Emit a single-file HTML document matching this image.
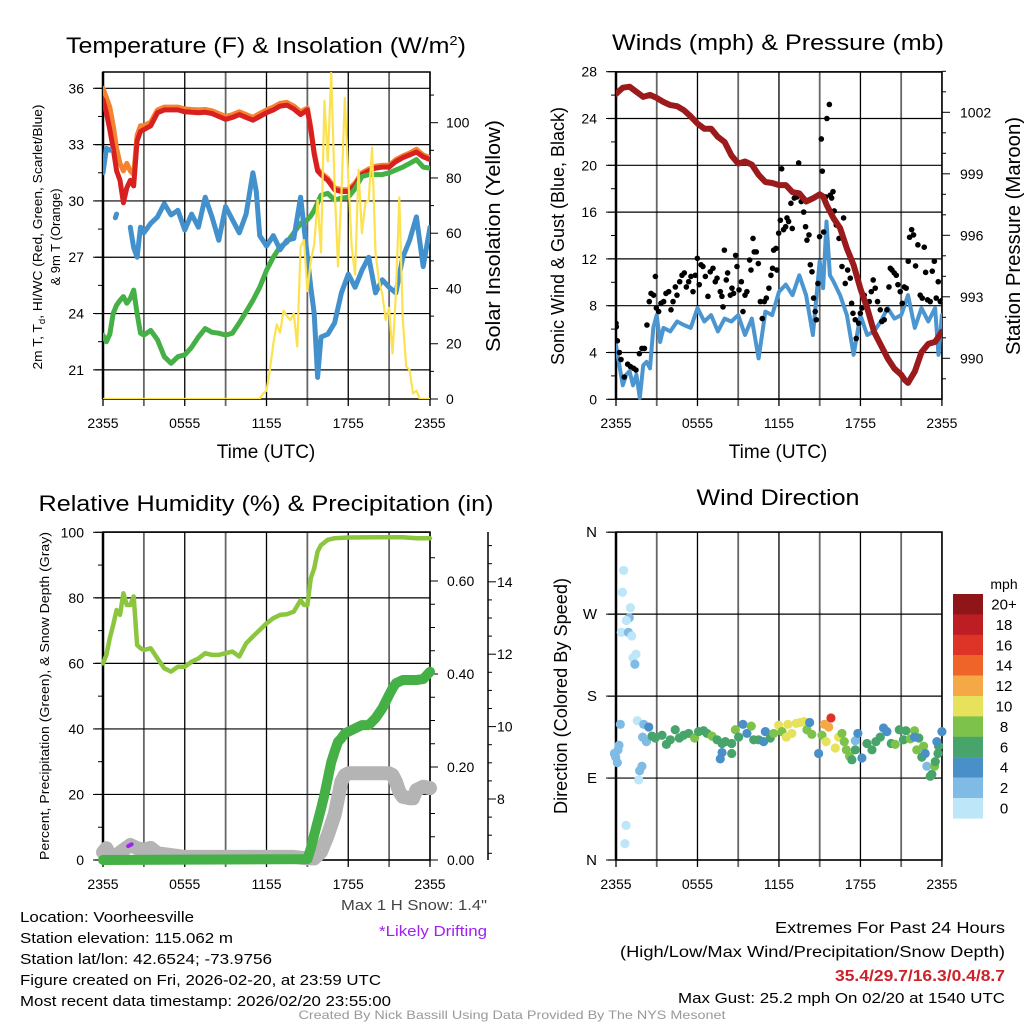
<!DOCTYPE html>
<html><head><meta charset="utf-8"><style>
html,body{margin:0;padding:0;background:#fff;}
svg{display:block;font-family:"Liberation Sans",Arial,sans-serif;}
</style></head><body>
<svg id="fig" width="1024" height="1024" viewBox="0 0 1024 1024" xmlns="http://www.w3.org/2000/svg">
<defs>
<clipPath id="c1"><rect x="103" y="72" width="327" height="327"/></clipPath>
<clipPath id="c2"><rect x="616" y="72" width="326" height="328"/></clipPath>
<clipPath id="c3"><rect x="96" y="525" width="341" height="345"/></clipPath>
<clipPath id="c4"><rect x="610" y="525" width="338" height="342"/></clipPath>
</defs>
<g id="layer"></g>
<text x="266" y="53" font-size="22" text-anchor="middle" textLength="400" lengthAdjust="spacingAndGlyphs">Temperature (F) &amp; Insolation (W/m<tspan dy="-8" font-size="13">2</tspan><tspan dy="8">)</tspan></text>
<text x="778" y="50" font-size="22" text-anchor="middle" textLength="332" lengthAdjust="spacingAndGlyphs">Winds (mph) &amp; Pressure (mb)</text>
<text x="266" y="511" font-size="22" text-anchor="middle" textLength="455" lengthAdjust="spacingAndGlyphs">Relative Humidity (%) &amp; Precipitation (in)</text>
<text x="778" y="505" font-size="22" text-anchor="middle" textLength="163" lengthAdjust="spacingAndGlyphs">Wind Direction</text>

<text transform="translate(42,237) rotate(-90)" font-size="13" text-anchor="middle" textLength="265" lengthAdjust="spacingAndGlyphs">2m T, T<tspan font-size="9" dy="3">d</tspan><tspan dy="-3">, HI/WC (Red, Green, Scarlet/Blue)</tspan></text>
<text transform="translate(60,237) rotate(-90)" font-size="13" text-anchor="middle">&amp; 9m T (Orange)</text>
<text transform="translate(500,236) rotate(-90)" font-size="20" text-anchor="middle" textLength="232" lengthAdjust="spacingAndGlyphs">Solar Insolation (Yellow)</text>
<text transform="translate(564,236) rotate(-90)" font-size="18" text-anchor="middle" textLength="258" lengthAdjust="spacingAndGlyphs">Sonic Wind &amp; Gust (Blue, Black)</text>
<text transform="translate(1020,236) rotate(-90)" font-size="20" text-anchor="middle" textLength="238" lengthAdjust="spacingAndGlyphs">Station Pressure (Maroon)</text>
<text transform="translate(49,696) rotate(-90)" font-size="13" text-anchor="middle" textLength="328" lengthAdjust="spacingAndGlyphs">Percent, Precipitation (Green), &amp; Snow Depth (Gray)</text>
<text transform="translate(567,696) rotate(-90)" font-size="18" text-anchor="middle" textLength="236" lengthAdjust="spacingAndGlyphs">Direction (Colored By Speed)</text>
<text x="266" y="458" font-size="19" text-anchor="middle">Time (UTC)</text>
<text x="778" y="458" font-size="19" text-anchor="middle">Time (UTC)</text>

<text x="487" y="910" font-size="15" text-anchor="end" fill="#444" textLength="146" lengthAdjust="spacingAndGlyphs">Max 1 H Snow: 1.4"</text>
<text x="487" y="936" font-size="15" text-anchor="end" fill="#a020f0" textLength="108" lengthAdjust="spacingAndGlyphs">*Likely Drifting</text>
<g font-size="15">
<text x="20" y="922" textLength="174" lengthAdjust="spacingAndGlyphs">Location: Voorheesville</text>
<text x="20" y="943" textLength="213" lengthAdjust="spacingAndGlyphs">Station elevation: 115.062 m</text>
<text x="20" y="964" textLength="252" lengthAdjust="spacingAndGlyphs">Station lat/lon: 42.6524; -73.9756</text>
<text x="20" y="985" textLength="361" lengthAdjust="spacingAndGlyphs">Figure created on Fri, 2026-02-20, at 23:59 UTC</text>
<text x="20" y="1006" textLength="371" lengthAdjust="spacingAndGlyphs">Most recent data timestamp: 2026/02/20 23:55:00</text>
</g>
<g font-size="16" text-anchor="end">
<text x="1005" y="933" textLength="230" lengthAdjust="spacingAndGlyphs">Extremes For Past 24 Hours</text>
<text x="1005" y="957" textLength="385" lengthAdjust="spacingAndGlyphs">(High/Low/Max Wind/Precipitation/Snow Depth)</text>
<text x="1005" y="981" fill="#cc2229" font-weight="bold" textLength="170" lengthAdjust="spacingAndGlyphs">35.4/29.7/16.3/0.4/8.7</text>
<text x="1005" y="1003" font-size="15" textLength="327" lengthAdjust="spacingAndGlyphs">Max Gust: 25.2 mph On 02/20 at 1540 UTC</text>
</g>
<text x="512" y="1019" font-size="12" fill="#999" text-anchor="middle" textLength="427" lengthAdjust="spacingAndGlyphs">Created By Nick Bassill Using Data Provided By The NYS Mesonet</text>
</svg>
<script>
// ---------- Panel 1 data ----------
const tT = [0,0.25,0.5,0.75,1,1.25,1.5,1.75,2,2.25,2.5,2.75,3,3.5,4,4.5,5,5.5,6,6.5,7,7.5,8,8.5,9,9.5,10,10.5,11,11.5,12,12.5,13,13.5,14,14.5,15,15.25,15.5,15.75,16,16.5,17,17.5,18,18.5,19,19.5,20,20.5,21,21.5,22,22.5,23,23.5,24];
const temp2m = [35.4,34.7,33.8,32.8,31.6,31.1,29.9,30.7,31.1,30.8,33.2,33.7,33.8,34.0,34.7,34.85,34.85,34.85,34.75,34.72,34.7,34.72,34.66,34.5,34.35,34.45,34.6,34.45,34.3,34.5,34.7,34.85,35.05,35.1,34.9,34.6,34.85,33.8,32.5,31.6,31.4,31.1,30.6,30.5,30.5,30.85,31.4,31.6,31.75,31.8,31.8,32.1,32.3,32.45,32.6,32.35,32.2];
const temp9m = [36.0,35.5,35.0,34.0,32.8,32.0,31.6,32.0,31.6,31.4,33.5,34.0,34.0,34.2,34.85,35.0,35.0,35.0,34.9,34.87,34.85,34.87,34.8,34.65,34.5,34.6,34.75,34.6,34.45,34.65,34.85,35.0,35.2,35.25,35.05,34.75,34.95,33.9,32.6,31.7,31.5,31.2,30.7,30.6,30.6,30.95,31.5,31.7,31.85,31.9,31.9,32.2,32.4,32.55,32.75,32.45,32.3];
const dewpt = [22.85,22.5,22.9,24.0,24.45,24.7,24.9,24.55,24.8,25.25,24.0,22.95,22.85,23.1,22.6,21.7,21.35,21.7,21.8,22.2,22.75,23.2,23.0,22.95,22.85,22.95,23.5,24.1,24.7,25.4,26.3,27.0,27.55,27.8,28.3,28.8,29.0,29.2,29.5,29.9,30.3,30.4,30.05,30.15,30.2,30.65,31.3,31.4,31.4,31.4,31.5,31.65,31.8,32.0,32.2,31.8,31.75];
const tWC = [0,0.25,0.5,0.75,0.9,1.0,1.75,2,2.25,2.5,2.75,3,3.5,4,4.5,5,5.5,6,6.5,7,7.5,8,8.5,9,9.5,10,10.5,11,11.25,11.5,12,12.5,13,13.5,14,14.5,15,15.25,15.5,15.75,16,16.5,17,17.5,18,18.5,19,19.5,20,20.5,21,21.5,22,22.5,23,23.5,24];
const windChill = [31.5,32.8,32.7,null,29.1,29.3,null,28.6,27.5,27.0,28.6,28.3,28.8,29.15,29.85,29.25,29.5,28.45,29.3,28.6,30.2,29.15,27.9,29.7,29.0,28.3,29.3,31.5,30.5,28.15,27.6,28.15,27.4,27.9,28.0,30.2,27.0,25.4,24.0,20.6,22.75,22.9,23.5,25.1,26.1,25.4,26.3,27.0,25.1,25.8,25.4,25.1,27.0,27.9,29.15,26.5,28.6];
const tSol = [0,11.5,11.75,12,12.25,12.5,12.75,13,13.25,13.5,13.75,14,14.25,14.5,14.75,15,15.25,15.5,15.75,16,16.25,16.5,16.75,17,17.25,17.5,17.75,18,18.25,18.5,18.75,19,19.25,19.5,19.75,20,20.25,20.5,20.75,21,21.25,21.5,21.75,22,22.25,22.5,22.75,23,23.25,24];
const solar = [0,0,2,3,10.5,20,27,24,32,30,28.6,31,19,55,57.5,39,50,56,72,53,108,86,118,77,48,74,109,80,55,45,83,60,71,72,91,53,43,38,28.6,33,16.5,38,73,28.6,11.7,10.5,2,3,0,0];
// ---------- Panel 2 data ----------
const tP = [0,0.5,1,1.5,2,2.5,3,3.5,4,4.5,5,5.5,6,6.5,7,7.5,8,8.5,9,9.5,10,10.5,11,11.5,12,12.5,13,13.5,14,14.5,15,15.25,15.5,16,16.5,17,17.5,18,18.5,19,19.5,20,20.5,21,21.25,21.5,22,22.5,23,23.5,24];
const pressure = [1002.9,1003.2,1003.25,1003.0,1002.75,1002.85,1002.7,1002.5,1002.35,1002.3,1002.1,1001.8,1001.45,1001.2,1001.2,1000.8,1000.55,999.9,999.5,999.6,999.45,998.95,998.6,998.55,998.45,998.45,998.1,998.05,997.65,997.8,998.0,997.9,997.5,996.85,996.35,995.35,994.55,993.4,992.45,991.3,990.65,990.0,989.5,989.2,988.95,988.8,989.35,990.3,990.7,990.8,991.3];
const tW = [0,0.25,0.5,0.75,1,1.25,1.5,1.75,2,2.25,2.5,2.75,3,3.25,3.5,4,4.5,5,5.5,6,6.5,7,7.5,8,8.5,9,9.5,10,10.5,11,11.5,12,12.5,13,13.5,14,14.5,15,15.25,15.5,15.75,16,16.5,17,17.5,18,18.5,19,19.5,20,20.5,21,21.5,22,22.5,23,23.5,23.75,24];
const sonicWind = [4.65,2.9,1.2,2.1,2.4,1.2,2.1,0.1,2.9,3.2,2.65,6.1,7.2,4.9,6.1,5.8,6.65,6.35,6.1,7.8,6.65,7.2,5.8,6.9,6.65,7.2,5.5,6.9,3.5,7.5,7.2,9.2,9.8,8.9,10.6,8.9,5.5,11.8,9.5,15.2,10.6,10.1,8.9,7.2,3.8,7.2,5.5,5.8,6.65,7.8,6.9,7.2,8.9,6.1,7.8,6.65,7.8,3.8,7.2];
const gustT = [0,0.02,0.1,0.25,0.37,0.61,0.86,1.06,1.3,1.47,1.72,1.91,2.09,2.28,2.45,2.58,2.77,2.9,2.97,3.14,3.31,3.51,3.68,3.88,4.05,4.2,4.37,4.49,4.69,4.86,5.03,5.18,5.35,5.52,5.67,5.84,5.99,6.13,6.26,6.4,6.58,6.77,6.94,7.14,7.31,7.44,7.68,7.8,7.98,7.88,8.12,8.22,8.42,8.54,8.66,8.81,8.91,9.06,9.23,9.35,9.5,9.64,9.84,9.94,10.09,10.18,10.33,10.48,10.63,10.77,10.92,11.07,11.26,11.41,11.53,11.61,11.78,11.85,11.98,12.1,12.2,12.34,12.49,12.59,12.71,12.88,12.98,13.13,13.33,13.45,13.64,13.82,13.96,14.06,14.21,14.31,14.43,14.55,14.67,14.75,14.87,14.99,15.12,15.19,15.29,15.44,15.53,15.71,15.78,15.88,15.98,16.07,16.22,16.42,16.52,16.64,16.76,16.88,17.06,17.25,17.35,17.45,17.62,17.69,17.87,17.99,18.11,18.28,18.48,18.65,18.8,18.94,19.09,19.26,19.46,19.58,19.75,19.95,20.1,20.2,20.32,20.49,20.64,20.76,20.93,21.08,21.23,21.37,21.52,21.62,21.77,21.91,22.06,22.23,22.4,22.55,22.7,22.8,22.94,23.14,23.29,23.44,23.58,23.73,23.88,24.0];
const gustV = [6.5,6.2,5.0,4.0,3.4,1.9,3.0,2.8,2.65,2.5,3.9,4.35,4.35,6.35,8.35,9.05,8.9,10.5,7.8,7.5,8.2,8.35,9.05,9.2,7.65,8.35,9.6,8.9,10.05,10.6,10.8,9.6,10.05,10.5,9.2,10.6,12.05,9.8,11.5,11.35,10.5,8.8,10.9,11.2,10.05,10.35,9.2,8.8,12.75,7.9,10.2,10.8,8.9,9.5,9.05,12.3,11.35,9.35,10.05,7.5,8.9,9.2,11.9,11.05,13.75,12.6,12.6,11.6,8.35,6.9,8.35,8.65,9.5,10.6,11.2,12.75,12.9,11.05,14.2,15.3,19.7,14.5,14.75,15.5,15.2,16.75,14.6,17.2,17.3,20.2,16.9,16.0,14.75,13.6,14.05,11.5,10.9,8.65,7.5,6.8,9.9,13.9,22.25,19.5,14.3,17.3,24.0,25.2,17.45,17.2,17.75,16.1,14.9,13.75,14.6,11.35,15.5,9.9,11.05,10.35,8.2,7.35,6.8,5.2,6.5,7.35,7.8,8.9,7.8,8.35,9.2,10.2,9.5,8.35,7.65,6.65,6.8,7.65,9.6,11.2,11.05,10.8,10.6,9.8,9.2,8.2,9.6,9.5,11.8,13.85,14.5,14.05,11.4,13.2,8.9,8.65,13.0,10.85,8.5,8.35,10.95,11.8,8.65,10.05,8.35,8.45];
// ---------- Panel 3 data ----------
const tRH = [0,0.25,0.5,0.75,1,1.25,1.5,1.75,2,2.25,2.5,2.75,3,3.5,4,4.5,5,5.5,6,6.5,7,7.5,8,8.5,9,9.5,10,10.5,11,11.5,12,12.5,13,13.5,14,14.5,14.75,15,15.25,15.5,15.75,16,16.5,17,18,20,22,23,24];
const rh = [60,62.6,67.7,71.7,76.3,74.8,81.4,77.8,77.8,80.4,65.6,64.6,64.1,64.6,61.5,58.5,57.5,59.0,59.0,60.5,61.5,63.1,62.6,62.6,63.1,63.6,62.1,66.1,68.2,70.2,72.2,73.8,74.8,75.0,75.8,79.3,77.8,77.8,86.0,89.0,94.1,96.1,97.7,98.2,98.4,98.5,98.5,98.2,98.2];
const tPr = [0,15,15.25,15.5,15.75,16,16.25,16.5,16.75,17,17.25,17.5,17.75,18,18.5,19,19.5,20,20.5,21,21.25,21.5,22,22.5,23,23.5,24];
const precip = [0,0.002,0.025,0.054,0.082,0.11,0.14,0.175,0.21,0.233,0.254,0.262,0.272,0.276,0.283,0.29,0.29,0.305,0.326,0.355,0.369,0.38,0.387,0.387,0.387,0.389,0.405];
const tSn = [0,0.25,0.5,1,1.5,2,2.5,3,3.5,4,5,6,10,14,15,15.5,16,16.5,17,17.25,17.5,17.75,18,19,20,21,21.25,21.5,21.75,22,22.5,22.75,23,23.5,24];
const snowDepth = [6.53,6.64,6.45,6.45,6.59,6.73,6.64,6.6,6.65,6.5,6.45,6.4,6.4,6.4,6.36,6.36,6.54,7.0,7.56,8.02,8.48,8.66,8.71,8.71,8.71,8.71,8.66,8.48,8.2,8.06,8.02,8.02,8.25,8.34,8.3];
const tDrift = [1.85,2.1];
const drift = [6.7,6.75];
// ---------- Panel 4 data ----------
const dirT = [0.56,0.47,1.06,0.98,0.76,0.39,0.91,1.16,1.47,1.25,1.39,1.57,0.32,0.22,0.15,-0.12,-0.02,0.1,1.74,1.91,1.67,0.74,0.66,1.96,2.04,2.41,2.24,2.65,2.89,3.39,3.71,4.0,4.36,4.66,4.98,5.35,5.79,6.08,6.45,6.7,7.07,7.44,7.81,8.05,7.68,7.81,8.52,8.52,8.79,9.03,9.35,9.64,9.96,10.14,10.5,10.87,11.0,11.36,11.61,11.98,12.22,12.54,12.66,12.95,13.27,13.57,13.86,14.06,14.42,14.26,14.92,15.17,15.66,15.83,15.35,15.47,16.15,16.39,16.64,16.81,16.96,17.2,17.37,17.62,17.62,17.81,18.11,18.48,18.85,19.14,19.46,19.7,19.95,20.27,20.56,20.86,21.17,21.35,21.67,21.98,22.3,21.98,22.15,22.52,22.65,22.77,22.89,23.14,23.26,23.46,23.51,23.71,23.75,24.0,23.63];
const dirDeg = [318,294,277,266,263,250,250,246,226,222,215,153,149,126,121,117,113,107,98,103,88,38,18,135,149,146,130,136,134,137,127,132,143,134,137,139,134,141,142,139,136,132,128,130,111,118,117,128,143,135,149,139,147,132,132,130,141,134,139,148,141,135,149,139,150,151,152,143,138,151,117,137,146,156,149,130,123,135,139,130,121,114,110,121,131,139,112,128,121,130,135,145,141,128,127,143,132,142,133,142,134,135,121,113,125,117,103,92,94,103,108,117,125,141,130,134];
const dirSpd = [0.5,1,1,3,1,1,3,1,1,1,3,1,3,2,2,3,3,3,2,2,1,0.5,0.5,2,3,4.5,2,6,6,7,6,6,7,6,6,7,8,7,7,6,8,6,6,6,4,4,6,6,8,6,4,4,8,6,6,4,4,6,8,10,8,10,10,10,10,10,10,8,8,4,4,8,12,16,12,10,10,10,8,8,8,8,6,6,2,4,4,6,6,6,6,4,4,6,8,6,6,6,8,8,6,4,8,6,8,4,2,6,6,8,6,6,6,4,4,2];
const cbLabels = ["20+","18","16","14","12","10","8","6","4","2","0"];
const cbColors = ["#8f1519","#bd1e24","#dd3427","#ee6429","#f5a946","#e6e25b","#7dc24b","#47a46b","#4a90c8","#7fbbe5","#bde6f8"];
const xTickLabels = ["2355","0555","1155","1755","2355"];

// ---------- helpers ----------
const NS = "http://www.w3.org/2000/svg";
const layer = document.getElementById("layer");
function mk(tag, attrs, parent) {
  const e = document.createElementNS(NS, tag);
  for (const k in attrs) e.setAttribute(k, attrs[k]);
  (parent || layer).appendChild(e);
  return e;
}
function grp(name, clip) {
  const g = mk("g", clip ? {"clip-path": "url(#" + clip + ")"} : {});
  
  
  return g;
}
function pathD(ts, vs, fx, fy) {
  let d = "", pen = false;
  for (let i = 0; i < ts.length; i++) {
    if (vs[i] === null) { pen = false; continue; }
    d += (pen ? "L" : "M") + fx(ts[i]).toFixed(1) + "," + fy(vs[i]).toFixed(1);
    pen = true;
  }
  return d;
}
function line(name, ts, vs, fx, fy, color, w, clip) {
  const p = mk("path", {d: pathD(ts, vs, fx, fy), fill: "none", stroke: color, "stroke-width": w, "stroke-linejoin": "round", "stroke-linecap": "round", "clip-path": "url(#" + clip + ")"});
  
  
  // isolated single points
  for (let i = 0; i < ts.length; i++) {
    if (vs[i] !== null && (i === 0 || vs[i-1] === null) && (i === ts.length-1 || vs[i+1] === null)) {
      const c = mk("circle", {cx: fx(ts[i]), cy: fy(vs[i]), r: w/2, fill: color});
      
      
    }
  }
  return p;
}
function txt(s, x, y, size, anchor, g) {
  const t = mk("text", {x: x, y: y, "font-size": size, "text-anchor": anchor || "middle"}, g);
  t.textContent = s;
  return t;
}
// frame with grid and x ticks
function frame(name, L, R, T, B, fx, hGrid, fy) {
  const g = grp(name + "-grid");
  for (let h = 0; h <= 24; h += 3) {
    const x = fx(h);
    const gl = mk("line", {x1: x, x2: x, y1: T, y2: B + 7, stroke: (h % 6 === 0) ? "#000" : "#666", "stroke-width": (h % 6 === 0) ? 1.3 : 1.8}, g);
    
  }
  hGrid.forEach(v => {
    const y = fy(v);
    const hl = mk("line", {x1: L - 8, x2: R, y1: y, y2: y, stroke: "#000", "stroke-width": 1.2}, g);
    
  });
  mk("rect", {x: L, y: T, width: R - L, height: B - T, fill: "none", stroke: "#000", "stroke-width": 1.5}, g);
  mk("line", {x1: L, x2: L, y1: T, y2: B, stroke: "#000", "stroke-width": 2.5}, g);
  const lg = grp(name + "-x-tick-labels");
  xTickLabels.forEach((s, i) => {
    const t = txt(s, fx(i * 6), 0, 14, "middle", lg);
    t.setAttribute("y", B + 29);
    
  });
}
function yTicks(name, vals, fy, x, dir, len, labels, lx, anchor, size) {
  const g = grp(name);
  vals.forEach((v, i) => {
    const y = fy(v);
    mk("line", {x1: x, x2: x + dir * len, y1: y, y2: y, stroke: "#000", "stroke-width": 1}, g);
    if (labels && labels[i] !== undefined && labels[i] !== "") {
      const t = txt(labels[i], lx, y + 5, size || 14, anchor, g);
      
    }
  });
}

// ---------- Panel 1 ----------
const x1 = t => 103 + t * 13.625;
const yT = v => 88.3 + (36 - v) * 18.77;
const yS = v => 399 - v * 2.763;
frame("temp-panel", 103, 430, 72, 399, x1, [36, 33, 30, 27, 24, 21], yT);
yTicks("temp-y-axis", [36, 33, 30, 27, 24, 21], yT, 103, -1, 10, ["36", "33", "30", "27", "24", "21"], 84, "end");
yTicks("temp-y-minor", [34.5, 31.5, 28.5, 25.5, 22.5], yT, 103, -1, 5);
yTicks("solar-y-axis", [0, 20, 40, 60, 80, 100], yS, 430, 1, 8, ["0", "20", "40", "60", "80", "100"], 446, "start");
yTicks("solar-y-minor", [10, 30, 50, 70, 90, 110], yS, 430, 1, 4);
line("temp-9m-line", tT, temp9m, x1, yT, "#f5822e", 5, "c1");
line("temp-2m-line", tT, temp2m, x1, yT, "#d7201f", 5, "c1");
line("dewpoint-line", tT, dewpt, x1, yT, "#44b045", 5, "c1");
line("windchill-line", tWC, windChill, x1, yT, "#4391cc", 5, "c1");
line("solar-line", tSol, solar, x1, yS, "#fde24f", 2.2, "c1");

// ---------- Panel 2 ----------
const x2 = t => 616 + t * 13.58;
const yW = v => 399.3 - v * 11.7;
const yP = v => 112.3 + (1002 - v) * 20.5;
frame("winds-panel", 616, 942, 72, 399, x2, [0, 4, 8, 12, 16, 20, 24, 28], yW);
yTicks("wind-y-axis", [0, 4, 8, 12, 16, 20, 24, 28], yW, 616, -1, 10, ["0", "4", "8", "12", "16", "20", "24", "28"], 597, "end");
yTicks("wind-y-minor", [2, 6, 10, 14, 18, 22, 26], yW, 616, -1, 5);
yTicks("pressure-y-axis", [990, 993, 996, 999, 1002], yP, 942, 1, 8, ["990", "993", "996", "999", "1002"], 960, "start");
yTicks("pressure-y-minor", [989, 991, 992, 994, 995, 997, 998, 1000, 1001, 1003, 1004], yP, 942, 1, 4);
line("sonic-wind-line", tW, sonicWind, x2, yW, "#4b96d1", 4, "c2");
const gg = grp("gust-dots", "c2");
gustT.forEach((t, i) => {
  const c = mk("circle", {cx: x2(t), cy: yW(gustV[i]), r: 2.8, fill: "#000"}, gg);
  
  
});
line("pressure-line", tP, pressure, x2, yP, "#9b1a1c", 6, "c2");

// ---------- Panel 3 ----------
const yRH = v => 860 - v * 3.277;
const yPr = v => 860 - v * 465;
const ySn = v => 799 - (v - 8) * 36.2;
frame("rh-panel", 103, 430, 532, 860, x1, [0, 20, 40, 60, 80, 100], yRH);
yTicks("rh-y-axis", [0, 20, 40, 60, 80, 100], yRH, 103, -1, 10, ["0", "20", "40", "60", "80", "100"], 84, "end");
yTicks("rh-y-minor", [10, 30, 50, 70, 90], yRH, 103, -1, 5);
yTicks("precip-y-axis", [0, 0.2, 0.4, 0.6], yPr, 430, 1, 8, ["0.00", "0.20", "0.40", "0.60"], 447, "start");
yTicks("precip-y-minor", [0.05, 0.1, 0.15, 0.25, 0.3, 0.35, 0.45, 0.5, 0.55, 0.65], yPr, 430, 1, 5);
const sa = mk("line", {x1: 488, x2: 488, y1: 532, y2: 860, stroke: "#000", "stroke-width": 1.5});

yTicks("snow-y-axis", [8, 10, 12, 14], ySn, 488, 1, 8, ["8", "10", "12", "14"], 497, "start");
yTicks("snow-y-minor", [6.5, 7, 7.5, 8.5, 9, 9.5, 10.5, 11, 11.5, 12.5, 13, 13.5, 14.5, 15], ySn, 488, 1, 4);
line("snow-depth-line", tSn, snowDepth, x1, ySn, "#b4b4b4", 14, "c3");
line("precip-line", tPr, precip, x1, yPr, "#44b045", 10, "c3");
line("rh-line", tRH, rh, x1, yRH, "#8cc63f", 4.5, "c3");
line("drifting-mark", tDrift, drift, x1, ySn, "#a020f0", 4, "c3");

// ---------- Panel 4 ----------
const yD = v => 860 - v * 0.9106;
frame("direction-panel", 616, 942, 532, 860, x2, [0, 90, 180, 270, 360], yD);
yTicks("direction-y-axis", [0, 90, 180, 270, 360], yD, 616, -1, 10, ["N", "E", "S", "W", "N"], 597, "end", 15);
const dg = grp("direction-dots", "c4");
function spdColor(s) {
  let idx = Math.floor(s / 2); if (idx > 10) idx = 10;
  return cbColors[10 - idx];
}
dirT.forEach((t, i) => {
  const c = mk("circle", {cx: x2(t), cy: yD(dirDeg[i]), r: 4.6, fill: spdColor(dirSpd[i])}, dg);
  
  
});
// colorbar
const cb = grp("speed-colorbar");
const unit = txt("mph", 1004, 589, 14, "middle", cb);

cbLabels.forEach((s, i) => {
  const y = 594 + i * 20.4;
  const r = mk("rect", {x: 953, y: y, width: 30, height: 20.6, fill: cbColors[i]}, cb);
  
  const t = txt(s, 1004, y + 15.5, 15, "middle", cb);
  
});
</script>
</body></html>
